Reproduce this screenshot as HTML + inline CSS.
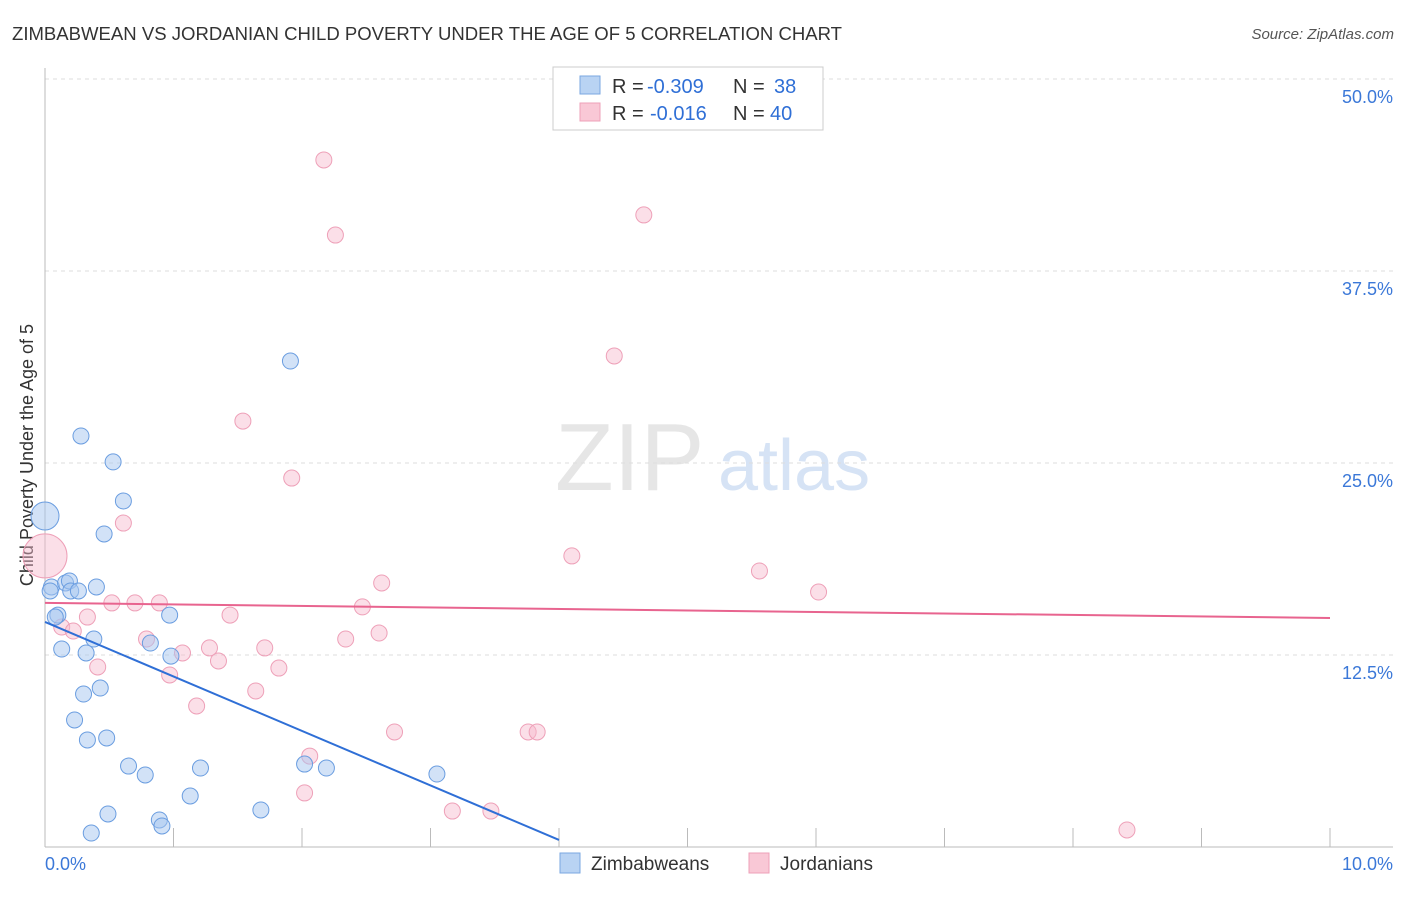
<!DOCTYPE html>
<html><head><meta charset="utf-8"><style>
body{margin:0;background:#fff;font-family:"Liberation Sans",sans-serif}
svg text{font-family:"Liberation Sans",sans-serif}
</style></head><body>
<svg id="chart" width="1406" height="892">
<text x="12" y="40" font-size="18" fill="#333" textLength="830" lengthAdjust="spacingAndGlyphs">ZIMBABWEAN VS JORDANIAN CHILD POVERTY UNDER THE AGE OF 5 CORRELATION CHART</text>
<text x="1394" y="39" font-size="15" fill="#555" font-style="italic" text-anchor="end">Source: ZipAtlas.com</text>
<text x="555" y="490" font-size="96" fill="#e6e6e6" font-family="Liberation Serif">ZIP</text>
<text x="718" y="490" font-size="72" fill="#d6e3f5">atlas</text>
<text transform="translate(33,455) rotate(-90)" font-size="18" fill="#333" text-anchor="middle">Child Poverty Under the Age of 5</text>
<g id="grid"></g><g id="marks"></g>
<g>
<rect x="553" y="67" width="270" height="63" fill="#fff" stroke="#ccc"/>
<rect x="580" y="76" width="20" height="18" fill="#b9d3f3" stroke="#7aa7e0"/>
<rect x="580" y="103" width="20" height="18" fill="#f9c8d6" stroke="#eea0b8"/>
<text x="612" y="93" font-size="20" fill="#333">R =</text>
<text x="647" y="93" font-size="20" fill="#2f6fd6">-0.309</text>
<text x="733" y="93" font-size="20" fill="#333">N =</text>
<text x="774" y="93" font-size="20" fill="#2f6fd6">38</text>
<text x="612" y="120" font-size="20" fill="#333">R =</text>
<text x="650" y="120" font-size="20" fill="#2f6fd6">-0.016</text>
<text x="733" y="120" font-size="20" fill="#333">N =</text>
<text x="770" y="120" font-size="20" fill="#2f6fd6">40</text>
</g>
<g>
<rect x="560" y="853" width="20" height="20" fill="#b9d3f3" stroke="#7aa7e0"/>
<text x="591" y="870" font-size="19" fill="#333">Zimbabweans</text>
<rect x="749" y="853" width="20" height="20" fill="#f9c8d6" stroke="#eea0b8"/>
<text x="780" y="870" font-size="19" fill="#333">Jordanians</text>
</g>
</svg>
<script>
const yTicks=[12.5,25,37.5,50];
const yTickLabels=["12.5%","25.0%","37.5%","50.0%"];
const xTickLabels=["0.0%","10.0%"];
const blueX=[0.00,0.05,0.04,0.10,0.13,0.16,0.19,0.20,0.26,0.28,0.40,0.38,0.46,0.53,0.61,0.32,0.30,0.43,0.23,0.33,0.48,0.65,0.78,0.49,0.36,0.82,0.97,0.98,0.89,0.91,1.13,1.21,1.68,1.91,2.02,2.19,3.05,0.08];
const blueY=[21.55,16.93,16.67,15.10,12.89,17.19,17.32,16.67,16.67,26.76,16.93,13.54,20.38,25.07,22.53,12.63,9.96,10.35,8.27,6.97,7.10,5.27,4.69,2.15,0.91,13.28,15.10,12.43,1.76,1.37,3.32,5.14,2.41,31.64,5.40,5.14,4.75,14.97];
const pinkX=[0.00,0.13,0.22,0.33,0.41,0.52,0.61,0.70,0.79,0.89,0.97,1.07,1.18,1.28,1.35,1.44,1.54,1.64,1.71,1.82,1.92,2.02,2.06,2.17,2.26,2.34,2.47,2.60,2.62,2.72,3.17,3.47,3.76,3.83,4.10,4.43,4.66,5.56,6.02,8.42];
const pinkY=[18.95,14.32,14.06,14.97,11.72,15.89,21.09,15.89,13.54,15.89,11.20,12.63,9.18,12.96,12.11,15.10,27.73,10.16,12.96,11.65,24.02,3.52,5.92,44.73,39.84,13.54,15.63,13.93,17.19,7.49,2.34,2.34,7.49,7.49,18.95,31.97,41.15,17.97,16.60,1.11];
const blueTrend=[[0,14.65],[4.0,0.46]];
const pinkTrend=[[0,15.89],[10,14.91]];
const NS="http://www.w3.org/2000/svg";
const X=v=>45+v*128.5, Y=v=>847-v*15.36;
function mk(tag,attrs,parent){const e=document.createElementNS(NS,tag);for(const k in attrs)e.setAttribute(k,attrs[k]);parent.appendChild(e);return e;}
const grid=document.getElementById('grid'), marks=document.getElementById('marks');
yTicks.forEach((t,i)=>{
 const l=mk('line',{x1:45,x2:1393,y1:Y(t),y2:Y(t),stroke:'#ddd','stroke-dasharray':'4,4'},grid);
 
 
 const tx=mk('text',{x:1393,y:Y(t)+24,'font-size':18,fill:'#3b78d8','text-anchor':'end'},grid);
 tx.textContent=yTickLabels[i];
 
 
});
const ax=mk('line',{x1:45,x2:1393,y1:847,y2:847,stroke:'#bbb'},grid);


const ay=mk('line',{x1:45,x2:45,y1:68,y2:847,stroke:'#bbb'},grid);


for(let i=1;i<=10;i++){const t=mk('line',{x1:X(i),x2:X(i),y1:828,y2:847,stroke:'#bbb'},grid);
 
 }
xTickLabels.forEach((s,i)=>{const t=mk('text',{x:i?1393:45,y:870,'font-size':18,fill:'#3b78d8','text-anchor':i?'end':'start'},grid);t.textContent=s;
 
 });
function pts(xs,ys,fill,stroke,name){xs.forEach((x,i)=>{const r=(x===0&&i===0)?(name=='blue-point'?14:22):8;
 const c=mk('circle',{cx:X(x),cy:Y(ys[i]),r:r,fill:fill,stroke:stroke,'stroke-width':1},marks);
 
 });}
pts(pinkX,pinkY,'rgba(246,184,204,0.45)','#eea0b8','pink-point');
pts(blueX,blueY,'rgba(165,198,240,0.5)','#6a9de0','blue-point');
const bl=mk('line',{x1:X(blueTrend[0][0]),y1:Y(blueTrend[0][1]),x2:X(blueTrend[1][0]),y2:Y(blueTrend[1][1]),stroke:'#2f6fd6','stroke-width':2},marks);


const pl=mk('line',{x1:X(pinkTrend[0][0]),y1:Y(pinkTrend[0][1]),x2:X(pinkTrend[1][0]),y2:Y(pinkTrend[1][1]),stroke:'#e8648f','stroke-width':2},marks);


</script>
</body></html>
